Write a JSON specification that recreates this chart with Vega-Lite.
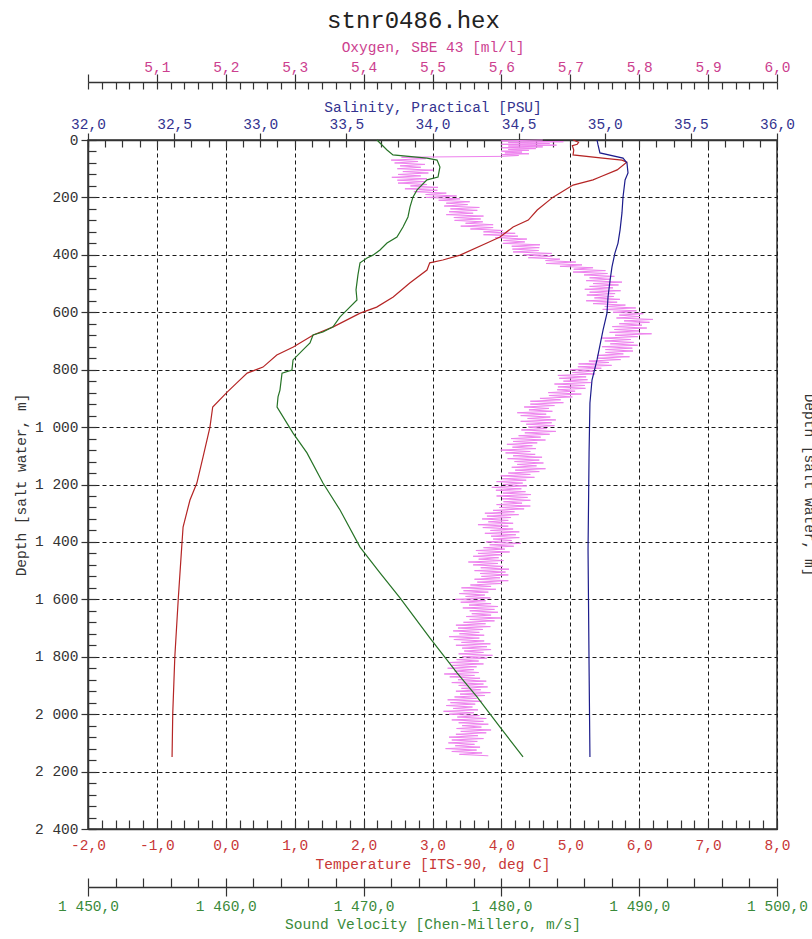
{
  "$schema": "https://vega.github.io/schema/vega-lite/v6.json",
  "autosize": "none",
  "padding": {"left": 88, "top": 140, "right": 35, "bottom": 110},
  "width": 689,
  "height": 689,
  "title": {"text": "stnr0486.hex", "font": "Liberation Mono", "fontSize": 24, "fontWeight": "normal", "color": "#222222", "anchor": "middle", "dx": -19, "offset": 6},
  "datasets": {
    "temp": [
      {"depth": 0, "value": 5.04}, {"depth": 8, "value": 5.12}, {"depth": 15, "value": 5.10}, {"depth": 20, "value": 5.03}, {"depth": 35, "value": 5.05}, {"depth": 52, "value": 5.04},
      {"depth": 63, "value": 5.47}, {"depth": 70, "value": 5.75}, {"depth": 77, "value": 5.82}, {"depth": 104, "value": 5.68}, {"depth": 129, "value": 5.43},
      {"depth": 139, "value": 5.33}, {"depth": 157, "value": 5.04}, {"depth": 199, "value": 4.75}, {"depth": 244, "value": 4.52}, {"depth": 279, "value": 4.39},
      {"depth": 303, "value": 4.17}, {"depth": 338, "value": 3.98}, {"depth": 359, "value": 3.79}, {"depth": 401, "value": 3.40}, {"depth": 418, "value": 3.15},
      {"depth": 428, "value": 2.96}, {"depth": 453, "value": 2.92}, {"depth": 498, "value": 2.67}, {"depth": 547, "value": 2.43}, {"depth": 582, "value": 2.19},
      {"depth": 603, "value": 1.95}, {"depth": 651, "value": 1.56}, {"depth": 679, "value": 1.27}, {"depth": 721, "value": 0.98}, {"depth": 749, "value": 0.74},
      {"depth": 791, "value": 0.54}, {"depth": 812, "value": 0.31}, {"depth": 846, "value": 0.16}, {"depth": 878, "value": 0.02}, {"depth": 930, "value": -0.19},
      {"depth": 1000, "value": -0.23}, {"depth": 1104, "value": -0.33}, {"depth": 1195, "value": -0.42}, {"depth": 1254, "value": -0.52}, {"depth": 1348, "value": -0.62},
      {"depth": 1418, "value": -0.64}, {"depth": 1599, "value": -0.69}, {"depth": 1801, "value": -0.74}, {"depth": 1999, "value": -0.77}, {"depth": 2149, "value": -0.78}
    ],
    "sal": [
      {"depth": 0, "value": 34.955}, {"depth": 17, "value": 34.961}, {"depth": 45, "value": 34.972}, {"depth": 63, "value": 35.106}, {"depth": 80, "value": 35.129},
      {"depth": 115, "value": 35.135}, {"depth": 139, "value": 35.118}, {"depth": 199, "value": 35.106}, {"depth": 254, "value": 35.100}, {"depth": 313, "value": 35.089},
      {"depth": 359, "value": 35.077}, {"depth": 394, "value": 35.059}, {"depth": 442, "value": 35.042}, {"depth": 488, "value": 35.031}, {"depth": 547, "value": 35.019},
      {"depth": 603, "value": 35.013}, {"depth": 662, "value": 34.990}, {"depth": 766, "value": 34.955}, {"depth": 836, "value": 34.926}, {"depth": 916, "value": 34.914},
      {"depth": 1090, "value": 34.909}, {"depth": 1428, "value": 34.903}, {"depth": 1836, "value": 34.909}, {"depth": 2149, "value": 34.914}
    ],
    "sv": [
      {"depth": 0, "value": 1470.97}, {"depth": 35, "value": 1471.70}, {"depth": 52, "value": 1472.13}, {"depth": 63, "value": 1474.60}, {"depth": 70, "value": 1475.33},
      {"depth": 94, "value": 1475.54}, {"depth": 129, "value": 1475.40}, {"depth": 139, "value": 1474.60}, {"depth": 174, "value": 1473.88}, {"depth": 199, "value": 1473.58},
      {"depth": 233, "value": 1473.37}, {"depth": 268, "value": 1473.22}, {"depth": 303, "value": 1472.86}, {"depth": 338, "value": 1472.42}, {"depth": 359, "value": 1471.70},
      {"depth": 383, "value": 1471.19}, {"depth": 401, "value": 1470.68}, {"depth": 411, "value": 1470.25}, {"depth": 428, "value": 1469.74}, {"depth": 470, "value": 1469.59},
      {"depth": 522, "value": 1469.45}, {"depth": 557, "value": 1469.52}, {"depth": 592, "value": 1468.80}, {"depth": 616, "value": 1468.29}, {"depth": 651, "value": 1467.78},
      {"depth": 669, "value": 1467.05}, {"depth": 679, "value": 1466.33}, {"depth": 707, "value": 1466.11}, {"depth": 731, "value": 1465.60}, {"depth": 766, "value": 1464.88},
      {"depth": 801, "value": 1464.80}, {"depth": 812, "value": 1464.08}, {"depth": 871, "value": 1463.93}, {"depth": 895, "value": 1463.79}, {"depth": 930, "value": 1463.72},
      {"depth": 1021, "value": 1464.88}, {"depth": 1090, "value": 1465.89}, {"depth": 1195, "value": 1467.05}, {"depth": 1289, "value": 1468.29}, {"depth": 1418, "value": 1469.74},
      {"depth": 1508, "value": 1471.19}, {"depth": 1595, "value": 1472.64}, {"depth": 1735, "value": 1474.82}, {"depth": 1856, "value": 1476.78}, {"depth": 1940, "value": 1478.23},
      {"depth": 2045, "value": 1479.90}, {"depth": 2149, "value": 1481.57}
    ],
    "oxy": [
      {"depth":0,"value":5.66},{"depth":3,"value":5.60},{"depth":6,"value":5.69},{"depth":9,"value":5.61},{"depth":12,"value":5.67},{"depth":15,"value":5.60},{"depth":18,"value":5.68},{"depth":21,"value":5.61},{"depth":24,"value":5.66},{"depth":27,"value":5.60},
      {"depth":30,"value":5.65},{"depth":33,"value":5.61},{"depth":36,"value":5.64},{"depth":39,"value":5.60},{"depth":42,"value":5.63},{"depth":45,"value":5.605},{"depth":48,"value":5.64},{"depth":51,"value":5.60},{"depth":54,"value":5.625},{"depth":57,"value":5.60},
      {"depth":60,"value":5.455},{"depth":65,"value":5.49},{"depth":70,"value":5.44},
      {"depth":75,"value":5.479},{"depth":80,"value":5.445},{"depth":85,"value":5.489},{"depth":90,"value":5.453},{"depth":95,"value":5.483},{"depth":100,"value":5.449},{"depth":105,"value":5.501},{"depth":110,"value":5.457},{"depth":115,"value":5.494},{"depth":120,"value":5.450},
      {"depth":125,"value":5.483},{"depth":130,"value":5.441},{"depth":135,"value":5.492},{"depth":140,"value":5.449},{"depth":145,"value":5.489},{"depth":150,"value":5.450},{"depth":155,"value":5.492},{"depth":160,"value":5.468},{"depth":165,"value":5.508},{"depth":170,"value":5.460},
      {"depth":175,"value":5.507},{"depth":180,"value":5.473},{"depth":185,"value":5.520},{"depth":190,"value":5.490},{"depth":195,"value":5.535},{"depth":200,"value":5.490},{"depth":205,"value":5.540},{"depth":210,"value":5.509},{"depth":215,"value":5.554},{"depth":220,"value":5.520},
      {"depth":225,"value":5.551},{"depth":230,"value":5.517},{"depth":235,"value":5.568},{"depth":240,"value":5.526},{"depth":245,"value":5.565},{"depth":250,"value":5.524},{"depth":255,"value":5.559},{"depth":260,"value":5.520},{"depth":265,"value":5.574},{"depth":270,"value":5.531},
      {"depth":275,"value":5.570},{"depth":280,"value":5.532},{"depth":285,"value":5.573},{"depth":290,"value":5.548},{"depth":295,"value":5.588},{"depth":300,"value":5.541},{"depth":305,"value":5.588},{"depth":310,"value":5.555},{"depth":315,"value":5.602},{"depth":320,"value":5.574},
      {"depth":325,"value":5.620},{"depth":330,"value":5.574},{"depth":335,"value":5.624},{"depth":340,"value":5.591},{"depth":345,"value":5.637},{"depth":350,"value":5.603},{"depth":355,"value":5.634},{"depth":360,"value":5.602},{"depth":365,"value":5.656},{"depth":370,"value":5.615},
      {"depth":375,"value":5.655},{"depth":380,"value":5.616},{"depth":385,"value":5.654},{"depth":390,"value":5.617},{"depth":395,"value":5.673},{"depth":400,"value":5.632},{"depth":405,"value":5.674},{"depth":410,"value":5.639},{"depth":415,"value":5.685},{"depth":420,"value":5.664},
      {"depth":425,"value":5.708},{"depth":430,"value":5.665},{"depth":435,"value":5.717},{"depth":440,"value":5.685},{"depth":445,"value":5.733},{"depth":450,"value":5.705},{"depth":455,"value":5.751},{"depth":460,"value":5.704},{"depth":465,"value":5.754},{"depth":470,"value":5.720},
      {"depth":475,"value":5.764},{"depth":480,"value":5.728},{"depth":485,"value":5.758},{"depth":490,"value":5.723},{"depth":495,"value":5.775},{"depth":500,"value":5.733},{"depth":505,"value":5.770},{"depth":510,"value":5.728},{"depth":515,"value":5.762},{"depth":520,"value":5.721},
      {"depth":525,"value":5.773},{"depth":530,"value":5.728},{"depth":535,"value":5.765},{"depth":540,"value":5.724},{"depth":545,"value":5.763},{"depth":550,"value":5.735},{"depth":555,"value":5.772},{"depth":560,"value":5.723},{"depth":565,"value":5.768},{"depth":570,"value":5.733},
      {"depth":575,"value":5.780},{"depth":580,"value":5.750},{"depth":585,"value":5.795},{"depth":590,"value":5.747},{"depth":595,"value":5.796},{"depth":600,"value":5.762},{"depth":605,"value":5.806},{"depth":610,"value":5.771},{"depth":615,"value":5.801},{"depth":620,"value":5.767},
      {"depth":625,"value":5.820},{"depth":630,"value":5.778},{"depth":635,"value":5.815},{"depth":640,"value":5.771},{"depth":645,"value":5.804},{"depth":650,"value":5.761},{"depth":655,"value":5.811},{"depth":660,"value":5.764},{"depth":665,"value":5.800},{"depth":670,"value":5.757},
      {"depth":675,"value":5.818},{"depth":680,"value":5.765},{"depth":685,"value":5.798},{"depth":690,"value":5.746},{"depth":695,"value":5.788},{"depth":700,"value":5.750},{"depth":705,"value":5.792},{"depth":710,"value":5.758},{"depth":715,"value":5.798},{"depth":720,"value":5.746},
      {"depth":725,"value":5.790},{"depth":730,"value":5.751},{"depth":735,"value":5.791},{"depth":740,"value":5.751},{"depth":745,"value":5.777},{"depth":750,"value":5.739},{"depth":755,"value":5.786},{"depth":760,"value":5.740},{"depth":765,"value":5.773},{"depth":770,"value":5.727},
      {"depth":775,"value":5.756},{"depth":780,"value":5.712},{"depth":785,"value":5.760},{"depth":790,"value":5.711},{"depth":795,"value":5.745},{"depth":800,"value":5.700},{"depth":805,"value":5.734},{"depth":810,"value":5.703},{"depth":815,"value":5.736},{"depth":820,"value":5.682},
      {"depth":825,"value":5.723},{"depth":830,"value":5.684},{"depth":835,"value":5.725},{"depth":840,"value":5.690},{"depth":845,"value":5.730},{"depth":850,"value":5.677},{"depth":855,"value":5.721},{"depth":860,"value":5.682},{"depth":865,"value":5.722},{"depth":870,"value":5.681},
      {"depth":875,"value":5.707},{"depth":880,"value":5.668},{"depth":885,"value":5.716},{"depth":890,"value":5.669},{"depth":895,"value":5.703},{"depth":900,"value":5.656},{"depth":905,"value":5.686},{"depth":910,"value":5.642},{"depth":915,"value":5.690},{"depth":920,"value":5.642},
      {"depth":925,"value":5.677},{"depth":930,"value":5.633},{"depth":935,"value":5.669},{"depth":940,"value":5.640},{"depth":945,"value":5.674},{"depth":950,"value":5.623},{"depth":955,"value":5.665},{"depth":960,"value":5.628},{"depth":965,"value":5.671},{"depth":970,"value":5.638},
      {"depth":975,"value":5.679},{"depth":980,"value":5.628},{"depth":985,"value":5.673},{"depth":990,"value":5.636},{"depth":995,"value":5.677},{"depth":1000,"value":5.639},{"depth":1005,"value":5.666},{"depth":1010,"value":5.629},{"depth":1015,"value":5.679},{"depth":1020,"value":5.634},
      {"depth":1025,"value":5.670},{"depth":1030,"value":5.625},{"depth":1035,"value":5.657},{"depth":1040,"value":5.614},{"depth":1045,"value":5.664},{"depth":1050,"value":5.617},{"depth":1055,"value":5.652},{"depth":1060,"value":5.608},{"depth":1065,"value":5.645},{"depth":1070,"value":5.616},
      {"depth":1075,"value":5.650},{"depth":1080,"value":5.599},{"depth":1085,"value":5.642},{"depth":1090,"value":5.606},{"depth":1095,"value":5.649},{"depth":1100,"value":5.617},{"depth":1105,"value":5.659},{"depth":1110,"value":5.609},{"depth":1115,"value":5.655},{"depth":1120,"value":5.619},
      {"depth":1125,"value":5.661},{"depth":1130,"value":5.623},{"depth":1135,"value":5.651},{"depth":1140,"value":5.615},{"depth":1145,"value":5.664},{"depth":1150,"value":5.620},{"depth":1155,"value":5.655},{"depth":1160,"value":5.610},{"depth":1165,"value":5.642},{"depth":1170,"value":5.599},
      {"depth":1175,"value":5.648},{"depth":1180,"value":5.601},{"depth":1185,"value":5.636},{"depth":1190,"value":5.593},{"depth":1195,"value":5.631},{"depth":1200,"value":5.602},{"depth":1205,"value":5.637},{"depth":1210,"value":5.586},{"depth":1215,"value":5.629},{"depth":1220,"value":5.592},
      {"depth":1225,"value":5.635},{"depth":1230,"value":5.602},{"depth":1235,"value":5.643},{"depth":1240,"value":5.593},{"depth":1245,"value":5.638},{"depth":1250,"value":5.601},{"depth":1255,"value":5.642},{"depth":1260,"value":5.603},{"depth":1265,"value":5.630},{"depth":1270,"value":5.593},
      {"depth":1275,"value":5.642},{"depth":1280,"value":5.597},{"depth":1285,"value":5.633},{"depth":1290,"value":5.588},{"depth":1295,"value":5.619},{"depth":1300,"value":5.576},{"depth":1305,"value":5.625},{"depth":1310,"value":5.579},{"depth":1315,"value":5.614},{"depth":1320,"value":5.572},
      {"depth":1325,"value":5.610},{"depth":1330,"value":5.581},{"depth":1335,"value":5.617},{"depth":1340,"value":5.566},{"depth":1345,"value":5.610},{"depth":1350,"value":5.573},{"depth":1355,"value":5.617},{"depth":1360,"value":5.584},{"depth":1365,"value":5.626},{"depth":1370,"value":5.576},
      {"depth":1375,"value":5.621},{"depth":1380,"value":5.585},{"depth":1385,"value":5.626},{"depth":1390,"value":5.588},{"depth":1395,"value":5.615},{"depth":1400,"value":5.578},{"depth":1405,"value":5.628},{"depth":1410,"value":5.583},{"depth":1415,"value":5.618},{"depth":1420,"value":5.574},
      {"depth":1425,"value":5.605},{"depth":1430,"value":5.563},{"depth":1435,"value":5.612},{"depth":1440,"value":5.566},{"depth":1445,"value":5.601},{"depth":1450,"value":5.559},{"depth":1455,"value":5.596},{"depth":1460,"value":5.567},{"depth":1465,"value":5.603},{"depth":1470,"value":5.552},
      {"depth":1475,"value":5.595},{"depth":1480,"value":5.559},{"depth":1485,"value":5.602},{"depth":1490,"value":5.570},{"depth":1495,"value":5.611},{"depth":1500,"value":5.561},{"depth":1505,"value":5.606},{"depth":1510,"value":5.569},{"depth":1515,"value":5.610},{"depth":1520,"value":5.571},
      {"depth":1525,"value":5.598},{"depth":1530,"value":5.561},{"depth":1535,"value":5.610},{"depth":1540,"value":5.565},{"depth":1545,"value":5.600},{"depth":1550,"value":5.555},{"depth":1555,"value":5.585},{"depth":1560,"value":5.542},{"depth":1565,"value":5.592},{"depth":1570,"value":5.545},
      {"depth":1575,"value":5.581},{"depth":1580,"value":5.539},{"depth":1585,"value":5.576},{"depth":1590,"value":5.548},{"depth":1595,"value":5.584},{"depth":1600,"value":5.533},{"depth":1605,"value":5.577},{"depth":1610,"value":5.541},{"depth":1615,"value":5.585},{"depth":1620,"value":5.553},
      {"depth":1625,"value":5.595},{"depth":1630,"value":5.544},{"depth":1635,"value":5.590},{"depth":1640,"value":5.554},{"depth":1645,"value":5.595},{"depth":1650,"value":5.557},{"depth":1655,"value":5.585},{"depth":1660,"value":5.549},{"depth":1665,"value":5.599},{"depth":1670,"value":5.554},
      {"depth":1675,"value":5.590},{"depth":1680,"value":5.545},{"depth":1685,"value":5.577},{"depth":1690,"value":5.534},{"depth":1695,"value":5.584},{"depth":1700,"value":5.537},{"depth":1705,"value":5.573},{"depth":1710,"value":5.530},{"depth":1715,"value":5.568},{"depth":1720,"value":5.539},
      {"depth":1725,"value":5.575},{"depth":1730,"value":5.524},{"depth":1735,"value":5.568},{"depth":1740,"value":5.531},{"depth":1745,"value":5.575},{"depth":1750,"value":5.542},{"depth":1755,"value":5.584},{"depth":1760,"value":5.534},{"depth":1765,"value":5.579},{"depth":1770,"value":5.543},
      {"depth":1775,"value":5.585},{"depth":1780,"value":5.546},{"depth":1785,"value":5.574},{"depth":1790,"value":5.538},{"depth":1795,"value":5.587},{"depth":1800,"value":5.543},{"depth":1805,"value":5.579},{"depth":1810,"value":5.535},{"depth":1815,"value":5.567},{"depth":1820,"value":5.525},
      {"depth":1825,"value":5.574},{"depth":1830,"value":5.528},{"depth":1835,"value":5.564},{"depth":1840,"value":5.522},{"depth":1845,"value":5.560},{"depth":1850,"value":5.532},{"depth":1855,"value":5.567},{"depth":1860,"value":5.517},{"depth":1865,"value":5.561},{"depth":1870,"value":5.525},
      {"depth":1875,"value":5.569},{"depth":1880,"value":5.537},{"depth":1885,"value":5.578},{"depth":1890,"value":5.528},{"depth":1895,"value":5.574},{"depth":1900,"value":5.538},{"depth":1905,"value":5.580},{"depth":1910,"value":5.542},{"depth":1915,"value":5.570},{"depth":1920,"value":5.534},
      {"depth":1925,"value":5.584},{"depth":1930,"value":5.540},{"depth":1935,"value":5.576},{"depth":1940,"value":5.532},{"depth":1945,"value":5.564},{"depth":1950,"value":5.522},{"depth":1955,"value":5.572},{"depth":1960,"value":5.526},{"depth":1965,"value":5.562},{"depth":1970,"value":5.520},
      {"depth":1975,"value":5.558},{"depth":1980,"value":5.530},{"depth":1985,"value":5.566},{"depth":1990,"value":5.516},{"depth":1995,"value":5.560},{"depth":2000,"value":5.524},{"depth":2005,"value":5.568},{"depth":2010,"value":5.536},{"depth":2015,"value":5.578},{"depth":2020,"value":5.528},
      {"depth":2025,"value":5.574},{"depth":2030,"value":5.538},{"depth":2035,"value":5.581},{"depth":2040,"value":5.543},{"depth":2045,"value":5.571},{"depth":2050,"value":5.535},{"depth":2055,"value":5.585},{"depth":2060,"value":5.541},{"depth":2065,"value":5.578},{"depth":2070,"value":5.534},
      {"depth":2075,"value":5.566},{"depth":2080,"value":5.524},{"depth":2085,"value":5.574},{"depth":2090,"value":5.528},{"depth":2095,"value":5.565},{"depth":2100,"value":5.523},{"depth":2105,"value":5.561},{"depth":2110,"value":5.533},{"depth":2115,"value":5.569},{"depth":2120,"value":5.519},
      {"depth":2125,"value":5.564},{"depth":2130,"value":5.528},{"depth":2135,"value":5.572},{"depth":2140,"value":5.539},{"depth":2145,"value":5.581}
    ]
  },
  "layer": [
    {
      "data": {"name": "oxy"},
      "mark": {"type": "line", "color": "#ee82ee", "strokeWidth": 1},
      "encoding": {
        "x": {"field": "value", "type": "quantitative", "scale": {"domain": [5, 6], "nice": false, "zero": false},
          "axis": {"orient": "top", "offset": 58, "values": [5.0, 5.1, 5.2, 5.3, 5.4, 5.5, 5.6, 5.7, 5.8, 5.9, 6.0], "format": ".1f", "labelExpr": "datum.value < 5.05 ? '' : datum.label",
            "tickSize": 8, "labelPadding": 0, "title": "Oxygen, SBE 43 [ml/l]", "titlePadding": 5, "labelColor": "#cc3f8f", "titleColor": "#cc3f8f", "grid": false}},
        "y": {"field": "depth", "type": "quantitative", "scale": {"domain": [0, 2400], "reverse": true, "nice": false, "zero": false}, "axis": null},
        "order": {"field": "depth", "type": "quantitative"}
      }
    },
    {
      "data": {"name": "oxy"},
      "mark": {"type": "line", "opacity": 0},
      "encoding": {
        "x": {"field": "value", "type": "quantitative", "scale": {"domain": [5, 6], "nice": false, "zero": false},
          "axis": {"orient": "top", "offset": 58, "values": [5.00,5.02,5.04,5.06,5.08,5.10,5.12,5.14,5.16,5.18,5.20,5.22,5.24,5.26,5.28,5.30,5.32,5.34,5.36,5.38,5.40,5.42,5.44,5.46,5.48,5.50,5.52,5.54,5.56,5.58,5.60,5.62,5.64,5.66,5.68,5.70,5.72,5.74,5.76,5.78,5.80,5.82,5.84,5.86,5.88,5.90,5.92,5.94,5.96,5.98,6.00],
            "tickSize": -7, "labels": false, "domain": false, "title": null, "grid": false}},
        "y": {"field": "depth", "type": "quantitative", "scale": {"domain": [0, 2400], "reverse": true, "nice": false, "zero": false}, "axis": null},
        "order": {"field": "depth", "type": "quantitative"}
      }
    },
    {
      "data": {"name": "temp"},
      "mark": {"type": "line", "color": "#b52525", "strokeWidth": 1.2},
      "encoding": {
        "x": {"field": "value", "type": "quantitative", "scale": {"domain": [-2, 8], "nice": false, "zero": false},
          "axis": {"orient": "bottom", "values": [-2, -1, 0, 1, 2, 3, 4, 5, 6, 7, 8], "format": ".1f", "ticks": false, "labelPadding": 9,
            "title": "Temperature [ITS-90, deg C]", "titlePadding": 6, "labelColor": "#c83737", "titleColor": "#c83737", "grid": true}},
        "y": {"field": "depth", "type": "quantitative", "scale": {"domain": [0, 2400], "reverse": true, "nice": false, "zero": false},
          "axis": {"orient": "left", "values": [0, 200, 400, 600, 800, 1000, 1200, 1400, 1600, 1800, 2000, 2200, 2400], "format": ",d", "tickSize": 7, "labelPadding": 3,
            "grid": true, "title": "Depth [salt water, m]", "titlePadding": 6, "labelColor": "#333333", "titleColor": "#333333"}},
        "order": {"field": "depth", "type": "quantitative"}
      }
    },
    {
      "data": {"name": "temp"},
      "mark": {"type": "line", "opacity": 0},
      "encoding": {
        "x": {"field": "value", "type": "quantitative", "scale": {"domain": [-2, 8], "nice": false, "zero": false},
          "axis": {"orient": "bottom", "values": [-2,-1.8,-1.6,-1.4,-1.2,-1,-0.8,-0.6,-0.4,-0.2,0,0.2,0.4,0.6,0.8,1,1.2,1.4,1.6,1.8,2,2.2,2.4,2.6,2.8,3,3.2,3.4,3.6,3.8,4,4.2,4.4,4.6,4.8,5,5.2,5.4,5.6,5.8,6,6.2,6.4,6.6,6.8,7,7.2,7.4,7.6,7.8,8],
            "tickSize": -9, "labels": false, "domain": false, "title": null, "grid": false}},
        "y": {"field": "depth", "type": "quantitative", "scale": {"domain": [0, 2400], "reverse": true, "nice": false, "zero": false},
          "axis": {"orient": "left", "values": [0,40,80,120,160,200,240,280,320,360,400,440,480,520,560,600,640,680,720,760,800,840,880,920,960,1000,1040,1080,1120,1160,1200,1240,1280,1320,1360,1400,1440,1480,1520,1560,1600,1640,1680,1720,1760,1800,1840,1880,1920,1960,2000,2040,2080,2120,2160,2200,2240,2280,2320,2360,2400],
            "tickSize": -8, "labels": false, "domain": false, "title": null, "grid": false}},
        "order": {"field": "depth", "type": "quantitative"}
      }
    },
    {
      "data": {"name": "sal"},
      "mark": {"type": "line", "color": "#1c1c8c", "strokeWidth": 1.2},
      "encoding": {
        "x": {"field": "value", "type": "quantitative", "scale": {"domain": [32, 36], "nice": false, "zero": false},
          "axis": {"orient": "top", "values": [32, 32.5, 33, 33.5, 34, 34.5, 35, 35.5, 36], "format": ".1f", "tickSize": 7, "labelPadding": 1.5,
            "title": "Salinity, Practical [PSU]", "titlePadding": 2.5, "labelColor": "#33338f", "titleColor": "#33338f", "grid": false}},
        "y": {"field": "depth", "type": "quantitative", "scale": {"domain": [0, 2400], "reverse": true, "nice": false, "zero": false}, "axis": null},
        "order": {"field": "depth", "type": "quantitative"}
      }
    },
    {
      "data": {"name": "sal"},
      "mark": {"type": "line", "opacity": 0},
      "encoding": {
        "x": {"field": "value", "type": "quantitative", "scale": {"domain": [32, 36], "nice": false, "zero": false},
          "axis": {"orient": "top", "values": [32,32.1,32.2,32.3,32.4,32.5,32.6,32.7,32.8,32.9,33,33.1,33.2,33.3,33.4,33.5,33.6,33.7,33.8,33.9,34,34.1,34.2,34.3,34.4,34.5,34.6,34.7,34.8,34.9,35,35.1,35.2,35.3,35.4,35.5,35.6,35.7,35.8,35.9,36],
            "tickSize": -7, "labels": false, "domain": false, "title": null, "grid": false}},
        "y": {"field": "depth", "type": "quantitative", "scale": {"domain": [0, 2400], "reverse": true, "nice": false, "zero": false},
          "axis": {"orient": "right", "ticks": false, "labels": false, "domain": false, "grid": false, "title": "Depth [salt water, m]", "titlePadding": 24, "titleColor": "#333333"}},
        "order": {"field": "depth", "type": "quantitative"}
      }
    },
    {
      "data": {"name": "sv"},
      "mark": {"type": "line", "color": "#267326", "strokeWidth": 1.2},
      "encoding": {
        "x": {"field": "value", "type": "quantitative", "scale": {"domain": [1450, 1500], "nice": false, "zero": false},
          "axis": {"orient": "bottom", "offset": 58, "values": [1450, 1460, 1470, 1480, 1490, 1500], "format": ",.1f", "tickSize": 9, "labelPadding": 3.5,
            "title": "Sound Velocity [Chen-Millero, m/s]", "titlePadding": 4.5, "labelColor": "#3a8a3a", "titleColor": "#3a8a3a", "grid": false}},
        "y": {"field": "depth", "type": "quantitative", "scale": {"domain": [0, 2400], "reverse": true, "nice": false, "zero": false}, "axis": null},
        "order": {"field": "depth", "type": "quantitative"}
      }
    },
    {
      "data": {"name": "sv"},
      "mark": {"type": "line", "opacity": 0},
      "encoding": {
        "x": {"field": "value", "type": "quantitative", "scale": {"domain": [1450, 1500], "nice": false, "zero": false},
          "axis": {"orient": "bottom", "offset": 58, "values": [1450,1452,1454,1456,1458,1460,1462,1464,1466,1468,1470,1472,1474,1476,1478,1480,1482,1484,1486,1488,1490,1492,1494,1496,1498,1500],
            "tickSize": -9, "labels": false, "domain": false, "title": null, "grid": false}},
        "y": {"field": "depth", "type": "quantitative", "scale": {"domain": [0, 2400], "reverse": true, "nice": false, "zero": false}, "axis": null},
        "order": {"field": "depth", "type": "quantitative"}
      }
    }
  ],
  "resolve": {"scale": {"x": "independent"}, "axis": {"x": "independent", "y": "independent"}},
  "config": {
    "locale": {"number": {"decimal": ",", "thousands": " ", "grouping": [3], "currency": ["", ""], "minus": "-"}},
    "font": "Liberation Mono",
    "view": {"stroke": "#333333", "strokeWidth": 1.5},
    "axis": {
      "labelFont": "Liberation Mono", "titleFont": "Liberation Mono", "labelFontSize": 14.5, "titleFontSize": 14.5, "titleFontWeight": "normal",
      "domainColor": "#333333", "tickColor": "#333333", "domainWidth": 1.5, "tickWidth": 1.2,
      "gridColor": "#1a1a1a", "gridDash": [4, 3], "gridOpacity": 1, "gridWidth": 1,
      "labelFlush": false, "labelOverlap": false, "labelBound": false
    }
  }
}
